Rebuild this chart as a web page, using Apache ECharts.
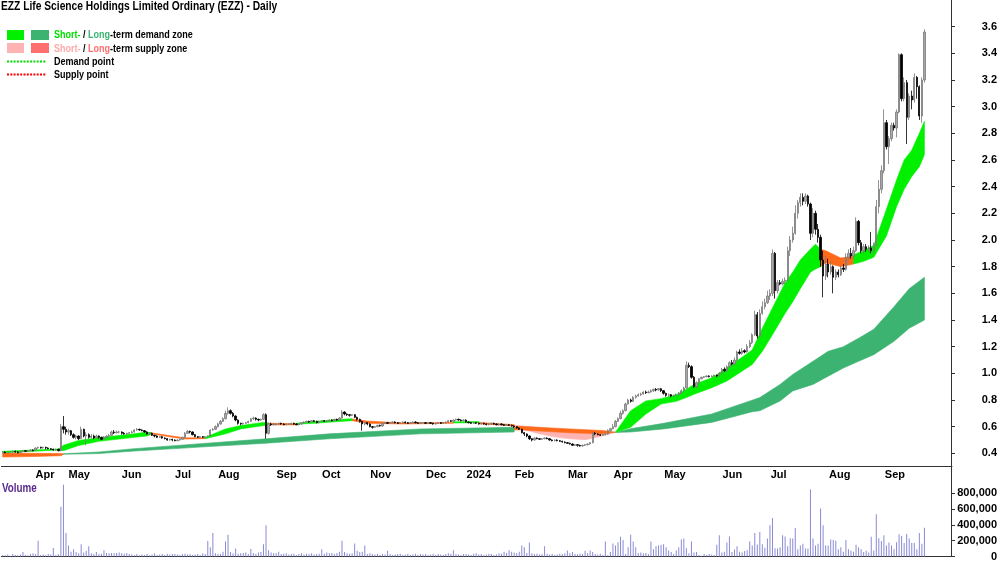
<!DOCTYPE html>
<html>
<head>
<meta charset="utf-8">
<script src="https://cdn.jsdelivr.net/npm/echarts@6/dist/echarts.min.js"></script>
<style>
  html, body { margin: 0; padding: 0; background: #fff; }
  #chart { width: 1000px; height: 562px; }
</style>
</head>
<body>
<div id="chart"></div>
<script>
// trading days shown per month (Mar 2023 .. Sep 2024)
const monthDays = [13, 13, 21, 21, 17, 23, 18, 19, 22, 16, 19, 21, 18, 20, 23, 19, 23, 22, 17];
const monthNames = ['Mar', 'Apr', 'May', 'Jun', 'Jul', 'Aug', 'Sep', 'Oct', 'Nov', 'Dec', '2024', 'Feb', 'Mar', 'Apr', 'May', 'Jun', 'Jul', 'Aug', 'Sep'];
const padDays = 10; // empty space right of the last bar

// daily candles [open, close, low, high]
const ohlc = [
  // Mar 23
  [.405,.41,.40,.415],[.41,.405,.40,.415],[.405,.41,.40,.41],[.41,.41,.405,.415],[.41,.415,.405,.42],[.415,.41,.405,.42],[.41,.405,.40,.415],[.405,.415,.40,.42],[.415,.42,.41,.425],[.42,.415,.41,.425],[.415,.42,.41,.425],[.42,.425,.415,.43],[.425,.42,.415,.43],
  // Apr 23
  [.425,.44,.42,.445],[.44,.445,.435,.45],[.445,.44,.435,.45],[.44,.445,.435,.45],[.445,.44,.43,.45],[.44,.435,.43,.445],[.435,.43,.425,.44],[.43,.425,.42,.435],[.425,.43,.42,.435],[.43,.42,.415,.435],[.42,.60,.415,.62],[.60,.58,.55,.68],[.58,.56,.54,.60],
  // May 23
  [.56,.57,.54,.585],[.57,.54,.53,.575],[.54,.52,.51,.55],[.52,.53,.505,.54],[.53,.51,.50,.535],[.51,.58,.51,.60],[.58,.53,.52,.585],[.53,.54,.46,.56],[.54,.52,.51,.55],[.52,.53,.51,.545],[.53,.515,.505,.54],[.515,.53,.51,.54],[.53,.52,.51,.535],[.52,.505,.50,.525],[.505,.52,.50,.53],[.52,.53,.515,.535],[.53,.535,.52,.545],[.535,.56,.53,.57],[.56,.555,.545,.575],[.555,.56,.55,.57],[.56,.56,.55,.57],
  // Jun 23
  [.56,.55,.54,.565],[.55,.545,.54,.56],[.545,.55,.54,.555],[.55,.555,.545,.56],[.555,.56,.55,.57],[.56,.575,.555,.58],[.575,.58,.57,.59],[.58,.575,.57,.585],[.575,.57,.565,.58],[.57,.56,.555,.575],[.56,.545,.54,.565],[.545,.55,.54,.555],[.55,.535,.53,.555],[.535,.53,.52,.54],[.53,.52,.515,.535],[.52,.525,.515,.53],[.525,.515,.51,.53],[.515,.51,.505,.52],[.51,.50,.495,.515],[.50,.505,.495,.51],[.505,.50,.49,.51],
  // Jul 23
  [.50,.495,.49,.505],[.495,.50,.49,.505],[.50,.505,.495,.51],[.505,.52,.50,.525],[.52,.55,.515,.56],[.55,.565,.545,.575],[.565,.56,.55,.57],[.56,.54,.535,.565],[.54,.525,.52,.545],[.525,.52,.515,.53],[.52,.525,.515,.53],[.525,.52,.515,.53],[.52,.525,.515,.53],[.525,.53,.52,.535],[.53,.575,.53,.58],[.575,.58,.57,.59],[.58,.60,.575,.61],
  // Aug 23
  [.60,.62,.595,.63],[.62,.64,.615,.65],[.64,.66,.635,.67],[.66,.70,.655,.72],[.70,.72,.69,.745],[.72,.70,.69,.73],[.70,.68,.67,.71],[.68,.65,.64,.685],[.65,.625,.615,.655],[.625,.62,.61,.63],[.62,.625,.615,.63],[.625,.63,.62,.635],[.63,.64,.625,.645],[.64,.66,.635,.665],[.66,.665,.65,.675],[.665,.655,.645,.67],[.655,.65,.64,.66],[.65,.655,.645,.66],[.655,.69,.65,.70],[.69,.55,.51,.70],[.55,.62,.54,.63],[.62,.615,.605,.63],[.615,.62,.61,.625],
  // Sep 23
  [.615,.62,.61,.625],[.62,.625,.615,.63],[.625,.62,.615,.63],[.62,.615,.61,.625],[.615,.62,.61,.625],[.62,.62,.615,.625],[.62,.625,.615,.63],[.625,.62,.615,.63],[.62,.615,.61,.625],[.615,.62,.61,.625],[.62,.63,.615,.635],[.63,.635,.625,.64],[.635,.64,.63,.645],[.64,.635,.63,.645],[.635,.645,.63,.65],[.645,.64,.635,.65],[.64,.63,.625,.645],[.63,.64,.625,.645],
  // Oct 23
  [.64,.645,.635,.65],[.645,.64,.635,.65],[.64,.645,.635,.65],[.645,.65,.64,.655],[.65,.645,.64,.655],[.645,.655,.64,.66],[.655,.65,.645,.66],[.65,.665,.645,.67],[.665,.71,.66,.725],[.71,.695,.685,.715],[.695,.69,.68,.70],[.69,.685,.675,.695],[.685,.69,.68,.695],[.69,.67,.665,.695],[.67,.655,.645,.675],[.655,.64,.63,.66],[.64,.62,.57,.645],[.62,.63,.61,.635],[.63,.62,.61,.635],
  // Nov 23
  [.62,.60,.595,.625],[.60,.595,.585,.605],[.595,.60,.59,.605],[.60,.61,.595,.615],[.61,.605,.60,.615],[.605,.625,.60,.63],[.625,.63,.62,.635],[.63,.625,.62,.635],[.625,.63,.62,.635],[.63,.635,.625,.64],[.635,.63,.625,.64],[.63,.625,.62,.635],[.625,.63,.62,.635],[.63,.635,.625,.64],[.635,.63,.625,.64],[.63,.625,.62,.635],[.625,.63,.62,.635],[.63,.635,.625,.64],[.635,.63,.625,.64],[.63,.625,.62,.635],[.625,.63,.62,.635],[.63,.63,.625,.635],
  // Dec 23
  [.63,.625,.62,.635],[.625,.63,.62,.635],[.63,.625,.62,.635],[.625,.62,.615,.63],[.62,.625,.615,.63],[.625,.63,.62,.635],[.63,.625,.62,.635],[.625,.63,.62,.635],[.63,.635,.625,.64],[.635,.645,.63,.65],[.645,.64,.635,.65],[.64,.65,.635,.655],[.65,.655,.645,.66],[.655,.65,.645,.66],[.65,.645,.64,.655],[.645,.65,.64,.655],
  // Jan 24
  [.65,.635,.63,.655],[.635,.63,.625,.64],[.63,.625,.62,.635],[.625,.63,.62,.635],[.63,.625,.62,.635],[.625,.62,.615,.63],[.62,.625,.615,.63],[.625,.62,.615,.63],[.62,.615,.61,.625],[.615,.62,.61,.625],[.62,.625,.615,.63],[.625,.62,.615,.63],[.62,.615,.61,.625],[.615,.62,.61,.625],[.62,.615,.61,.625],[.615,.61,.605,.62],[.61,.615,.605,.62],[.615,.61,.605,.62],[.61,.605,.60,.615],
  // Feb 24
  [.605,.60,.59,.61],[.60,.59,.585,.605],[.59,.58,.575,.595],[.58,.555,.55,.585],[.555,.545,.53,.56],[.545,.53,.52,.55],[.53,.51,.50,.535],[.51,.50,.49,.515],[.50,.515,.495,.52],[.515,.51,.505,.52],[.51,.505,.50,.515],[.505,.51,.50,.515],[.51,.515,.505,.52],[.515,.51,.505,.52],[.51,.50,.495,.515],[.50,.495,.49,.505],[.495,.50,.49,.505],[.50,.495,.49,.505],[.495,.49,.485,.50],[.49,.485,.48,.495],[.485,.48,.475,.49],
  // Mar 24
  [.48,.475,.47,.485],[.475,.47,.465,.48],[.47,.46,.455,.475],[.46,.465,.455,.47],[.465,.46,.45,.47],[.46,.455,.45,.465],[.455,.46,.45,.465],[.46,.465,.455,.47],[.465,.47,.46,.475],[.47,.48,.465,.485],[.48,.55,.475,.56],[.55,.545,.535,.56],[.545,.54,.535,.55],[.54,.535,.53,.545],[.535,.54,.53,.545],[.54,.545,.535,.55],[.545,.57,.54,.58],[.57,.585,.565,.59],
  // Apr 24
  [.585,.60,.58,.62],[.60,.64,.595,.65],[.64,.66,.635,.67],[.66,.70,.655,.72],[.70,.72,.69,.73],[.72,.77,.715,.78],[.77,.80,.765,.81],[.80,.79,.78,.81],[.79,.82,.785,.83],[.82,.83,.81,.84],[.83,.84,.825,.85],[.84,.845,.83,.855],[.845,.86,.84,.865],[.86,.855,.845,.87],[.855,.86,.85,.87],[.86,.87,.855,.88],[.87,.88,.86,.885],[.88,.875,.865,.89],[.875,.885,.87,.89],[.885,.87,.86,.89],
  // May 24
  [.87,.85,.84,.875],[.85,.835,.825,.855],[.835,.84,.825,.85],[.84,.83,.82,.845],[.83,.835,.825,.84],[.835,.84,.83,.85],[.84,.85,.835,.86],[.85,.87,.845,.88],[.87,.89,.865,.90],[.89,1.06,.885,1.09],[1.06,1.05,1.04,1.08],[1.05,.97,.96,1.06],[.97,.90,.89,.98],[.90,.93,.89,.94],[.93,.96,.925,.965],[.96,.97,.955,.975],[.97,.975,.965,.98],[.975,.98,.97,.985],[.98,.975,.97,.985],[.975,.98,.97,.985],[.98,.985,.975,.99],[.985,.98,.97,.99],[.98,1.0,.975,1.01],
  // Jun 24
  [1.0,1.03,.99,1.04],[1.03,1.02,1.01,1.045],[1.02,1.05,1.01,1.06],[1.05,1.08,1.04,1.09],[1.08,1.07,1.06,1.10],[1.07,1.10,1.06,1.12],[1.10,1.16,1.09,1.17],[1.16,1.15,1.14,1.18],[1.15,1.17,1.14,1.19],[1.17,1.16,1.15,1.18],[1.16,1.20,1.155,1.22],[1.20,1.23,1.19,1.25],[1.23,1.29,1.22,1.30],[1.29,1.44,1.28,1.47],[1.44,1.28,1.26,1.46],[1.28,1.45,1.27,1.48],[1.45,1.50,1.44,1.54],[1.50,1.53,1.48,1.56],[1.53,1.58,1.52,1.62],
  // Jul 24
  [1.58,1.60,1.55,1.63],[1.60,1.90,1.58,1.93],[1.90,1.62,1.56,1.91],[1.62,1.68,1.60,1.70],[1.68,1.67,1.66,1.70],[1.67,1.69,1.66,1.71],[1.69,1.70,1.67,1.72],[1.70,1.92,1.69,1.95],[1.92,2.00,1.88,2.03],[2.00,2.05,1.98,2.10],[2.05,2.20,2.04,2.26],[2.20,2.28,2.16,2.30],[2.28,2.32,2.25,2.35],[2.32,2.29,2.26,2.35],[2.29,2.33,2.27,2.35],[2.33,2.27,2.25,2.34],[2.27,2.05,2.00,2.28],[2.05,2.20,2.02,2.24],[2.20,2.08,2.04,2.22],[2.08,2.02,1.98,2.12],[2.02,1.85,1.80,2.04],[1.85,1.73,1.57,1.92],[1.73,1.82,1.70,1.88],
  // Aug 24
  [1.82,1.76,1.72,1.86],[1.76,1.80,1.74,1.84],[1.80,1.72,1.60,1.81],[1.72,1.76,1.70,1.78],[1.76,1.74,1.72,1.78],[1.74,1.79,1.73,1.81],[1.79,1.78,1.76,1.82],[1.78,1.87,1.77,1.90],[1.87,1.90,1.85,1.93],[1.90,1.88,1.86,1.94],[1.88,1.92,1.86,1.95],[1.92,2.14,1.91,2.17],[2.14,1.98,1.96,2.15],[1.98,1.92,1.90,2.00],[1.92,1.95,1.90,1.97],[1.95,1.93,1.91,1.97],[1.93,1.94,1.91,1.96],[1.94,1.92,1.90,2.06],[1.92,1.96,1.90,1.98],[1.96,2.25,1.95,2.30],[2.25,2.38,2.20,2.45],[2.38,2.52,2.35,2.56],
  // Sep 24
  [2.52,2.88,2.50,2.98],[2.88,2.70,2.68,2.90],[2.70,2.76,2.57,2.78],[2.76,2.86,2.74,2.88],[2.86,2.84,2.82,2.88],[2.84,2.96,2.77,2.98],[2.96,3.39,2.95,3.40],[3.39,3.06,3.04,3.40],[3.06,3.18,3.04,3.22],[3.18,2.92,2.72,3.20],[2.92,3.08,2.90,3.10],[3.08,3.05,2.98,3.12],[3.05,3.22,3.03,3.25],[3.22,3.15,3.06,3.23],[3.15,2.93,2.90,3.16],[2.93,3.20,2.88,3.22],[3.20,3.56,3.18,3.58]
];

// daily volume, thousands of shares
const volumeK = [
  20,15,25,10,30,20,15,25,56,20,15,30,40,
  30,200,20,25,15,30,25,108,20,30,627,906,296,
  140,60,92,56,40,156,50,70,128,40,30,56,30,35,80,45,40,45,40,45,50,
  40,35,45,30,25,20,30,15,25,20,30,15,25,40,20,25,30,20,35,25,30,
  30,25,20,30,35,25,30,20,25,30,20,40,30,196,116,296,40,
  30,35,60,188,276,56,40,100,35,40,45,50,30,96,45,35,50,56,156,395,80,50,40,
  45,60,30,35,40,25,30,35,20,30,40,25,35,30,40,25,30,35,
  92,35,50,40,45,30,45,60,200,56,40,35,40,164,72,56,60,140,30,
  40,30,25,35,20,30,25,72,30,20,25,30,35,20,25,30,20,25,35,20,30,25,
  30,20,25,35,20,30,25,20,30,40,35,80,30,25,20,30,
  30,25,20,35,40,25,30,20,25,35,30,20,25,40,35,60,45,80,60,
  50,40,60,140,116,45,176,40,30,35,25,30,128,35,25,30,20,25,35,30,40,
  76,40,56,30,25,35,30,72,40,76,56,30,25,35,20,188,20,56,
  164,140,180,248,208,30,116,276,188,116,45,50,40,45,30,188,92,128,140,148,
  156,116,76,56,30,76,116,216,228,104,40,188,50,56,20,10,30,20,30,25,20,148,268,
  50,60,176,252,56,88,128,60,50,70,80,188,140,296,150,308,156,110,228,
  395,487,104,100,116,268,252,128,232,228,360,90,140,160,100,100,846,228,140,160,607,395,140,
  140,216,208,200,92,116,60,208,92,72,60,148,116,92,56,72,50,248,76,535,232,196,
  268,140,176,140,92,180,280,260,170,284,228,170,170,92,296,160,364
];

// zone edges: [day index, lower, upper]
const longSupplyA = [[0,.372,.402],[12,.376,.40],[23,.382,.398],[24,.392,.396]];
const longDemandA = [[24,.393,.397],[38,.398,.41],[52,.417,.435],[78,.447,.472],[104,.476,.509],[129,.509,.546],[165,.546,.583],[202,.56,.595]];
const shortSupplyPink = [[202,.60,.612],[205,.583,.605],[211,.551,.595],[217,.526,.585],[224,.509,.575],[230,.502,.568],[234,.517,.565],[240,.546,.56],[242,.558,.559]];
const longSupplyB = [[202,.575,.595],[204,.576,.603],[224,.554,.583],[237,.546,.571],[242,.558,.559]];
const longDemandB = [[242,.557,.559],[248,.56,.585],[261,.583,.625],[280,.632,.695],[296,.712,.799],[299,.719,.818],[307,.793,.917],[312,.868,.992],[320,.917,1.09],[326,.979,1.165],[332,1.04,1.20],[338,1.09,1.263],[344,1.14,1.33],[352,1.24,1.50],[358,1.338,1.635],[364,1.40,1.72]];
const shortDemand = [
  [[0,.405,.415],[12,.415,.425],[22,.425,.432],[24,.42,.46],[30,.459,.497],[38,.49,.517],[52,.52,.546],[57,.53,.56],[59,.545,.552]],
  [[80,.51,.52],[88,.546,.583],[94,.583,.608],[103,.608,.632],[105,.615,.627]],
  [[116,.618,.626],[125,.628,.642],[131,.636,.652],[138,.645,.66]],
  [[178,.628,.636],[188,.63,.638]],
  [[242,.558,.559],[248,.595,.719],[254,.695,.793],[260,.77,.81],[266,.79,.84],[270,.818,.88],[273,.843,.917],[280,.892,.966],[286,.942,1.04],[296,1.066,1.175],[300,1.165,1.338],[304,1.29,1.49],[309,1.45,1.68],[312,1.536,1.759],[315,1.635,1.85],[319,1.759,1.932],[321,1.783,1.969],[323,1.80,1.93]],
  [[336,1.82,1.89],[340,1.84,1.92],[344,1.87,1.96],[349,2.03,2.23],[353,2.25,2.45],[356,2.38,2.60],[359,2.476,2.674],[362,2.55,2.80],[364,2.64,2.89]]
];
const shortSupply = [
  [[58,.548,.556],[65,.527,.535],[72,.507,.516],[80,.51,.516]],
  [[105,.614,.626],[116,.613,.622]],
  [[138,.645,.658],[144,.625,.642],[158,.62,.628],[178,.625,.632]],
  [[188,.622,.632],[202,.605,.615]],
  [[323,1.80,1.93],[325,1.83,1.92],[331,1.80,1.865],[336,1.82,1.88]]
];

const FONT = '"Liberation Sans", Arial, sans-serif';
const GREEN = '#00f000', DKGREEN = '#3cb371', ORANGE = '#ff6a1a', PINK = '#ffb4b4';
const NARROW = 0.82; // the source font is a narrow face

// category list, one per trading day
const dates = [];
const monthStart = new Set();
monthDays.forEach(function (n, m) {
  for (let d = 0; d < n; d++) {
    if (d === 0 && m > 0) monthStart.add(dates.length);
    dates.push(m + '-' + d);
  }
});
for (let i = 0; i < padDays; i++) dates.push('pad-' + i);

function isMonthStart(idx) { return monthStart.has(idx); }

//band polygon through the library's coordinate system
function band(points, color, z) {
  return {
    type: 'custom',
    xAxisIndex: 0, yAxisIndex: 0,
    z: z, silent: true,
    data: [[points[0][0], points[0][1]]],
    encode: { x: 0, y: 1 },
    renderItem: function (params, api) {
      const top = points.map(function (p) { return api.coord([p[0], p[2]]); });
      const bot = points.slice().reverse().map(function (p) { return api.coord([p[0], p[1]]); });
      return {
        type: 'polygon',
        shape: { points: top.concat(bot) },
        style: { fill: color, stroke: color, lineWidth: 0.6 }
      };
    }
  };
}

// narrow text block for title / legend
function label(x, y, text, size, fill, rich) {
  return {
    type: 'text', x: x, y: y, scaleX: NARROW,
    style: {
      text: text, verticalAlign: 'middle', fill: fill,
      font: 'bold ' + size + 'px ' + FONT, rich: rich
    }
  };
}
function richPart(color) {
  return { fill: color, fontFamily: FONT, fontWeight: 'bold', fontSize: 11 };
}

const series = [];
series.push(band(shortSupplyPink, PINK, 1));
series.push(band(longSupplyA, ORANGE, 1));
series.push(band(longSupplyB, ORANGE, 1));
series.push(band(longDemandA, DKGREEN, 1));
series.push(band(longDemandB, DKGREEN, 1));
shortSupply.forEach(function (s) { series.push(band(s, ORANGE, 2)); });
shortDemand.forEach(function (s) { series.push(band(s, GREEN, 2)); });
series.push({
  type: 'candlestick',
  xAxisIndex: 0, yAxisIndex: 0,
  data: ohlc,
  barWidth: 1.8,
  z: 5,
  itemStyle: { color: '#a8a8a8', color0: '#000', borderColor: '#7a7a7a', borderColor0: '#000', borderWidth: 0.8 }
});
series.push({
  type: 'bar',
  xAxisIndex: 2, yAxisIndex: 2,
  data: volumeK.map(function (v) { return v * 1000; }),
  barWidth: 1,
  itemStyle: { color: '#8a8ad8' }
});

const axisText = { fontFamily: FONT, fontWeight: 'bold', fontSize: 11, color: '#000' };
const gridPos = { left: 1.4, right: 48 };

const option = {
  animation: false,
  backgroundColor: '#fff',
  grid: [
    Object.assign({ top: -5, height: 485 }, gridPos),
    Object.assign({ top: 0, height: 466 }, gridPos),
    Object.assign({ top: 480, height: 80.7 }, gridPos)
  ],
  xAxis: [
    { gridIndex: 0, type: 'category', data: dates, show: false },
    {
      gridIndex: 1, type: 'category', data: dates,
      axisLine: { lineStyle: { color: '#333', width: 1 } },
      axisTick: { interval: isMonthStart, length: 4, lineStyle: { color: '#333' } },
      axisLabel: Object.assign({
        interval: isMonthStart, align: 'left', margin: 3,
        formatter: function (v) { return monthNames[+v.split('-')[0]]; }
      }, axisText),
      splitLine: { show: false }
    },
    {
      gridIndex: 2, type: 'category', data: dates, position: 'top',
      axisLine: { lineStyle: { color: '#333', width: 1 } },
      axisTick: { show: false }, axisLabel: { show: false }
    }
  ],
  yAxis: [
    {
      gridIndex: 0, type: 'value', position: 'right',
      min: 0.2, max: 3.8, interval: 0.2,
      axisLine: { show: true, lineStyle: { color: '#333' } },
      axisTick: { show: true, length: 4, lineStyle: { color: '#333' } },
      splitLine: { show: false },
      axisLabel: Object.assign({
        showMinLabel: false, showMaxLabel: false, align: 'right', margin: 46,
        formatter: function (v) { return v.toFixed(1); }
      }, axisText)
    },
    { gridIndex: 1, type: 'value', show: false },
    {
      gridIndex: 2, type: 'value', position: 'right',
      min: 0, max: 966000, interval: 200000,
      axisLine: { show: true, lineStyle: { color: '#333' } },
      axisTick: { show: true, length: 4, lineStyle: { color: '#333' } },
      splitLine: { show: false },
      axisLabel: Object.assign({
        showMaxLabel: false, align: 'right', margin: 46,
        formatter: function (v) { return v.toLocaleString('en-US'); }
      }, axisText)
    }
  ],
  graphic: [
    label(1, 7, 'EZZ Life Science Holdings Limited Ordinary (EZZ) - Daily', 12.5, '#000'),
    { type: 'rect', shape: { x: 7, y: 30, width: 17, height: 10 }, style: { fill: GREEN } },
    { type: 'rect', shape: { x: 31, y: 30, width: 18, height: 10 }, style: { fill: DKGREEN } },
    { type: 'rect', shape: { x: 7, y: 43, width: 17, height: 10 }, style: { fill: PINK } },
    { type: 'rect', shape: { x: 31, y: 43, width: 18, height: 10 }, style: { fill: '#ff6f6f' } },
    label(54, 35, '{g|Short-}{k| / }{d|Long}{k|-term demand zone}', 11, '#000',
      { g: richPart('#00dd00'), d: richPart(DKGREEN), k: richPart('#000') }),
    label(54, 48.5, '{p|Short-}{k| / }{r|Long}{k|-term supply zone}', 11, '#000',
      { p: richPart('#ffaaaa'), r: richPart('#ff6f6f'), k: richPart('#000') }),
    { type: 'line', shape: { x1: 7, y1: 61.5, x2: 46, y2: 61.5 }, style: { stroke: '#00dd00', lineWidth: 2, lineDash: [2, 1.3] } },
    { type: 'line', shape: { x1: 7, y1: 74.5, x2: 46, y2: 74.5 }, style: { stroke: '#ff0000', lineWidth: 2, lineDash: [2, 1.3] } },
    label(54, 62, 'Demand point', 11, '#000'),
    label(54, 75, 'Supply point', 11, '#000'),
    label(2, 489, 'Volume', 12, '#5b2a8c')
  ],
  series: series
};

const chart = echarts.init(document.getElementById('chart'), null, { renderer: 'canvas' });
chart.setOption(option);
</script>
</body>
</html>
